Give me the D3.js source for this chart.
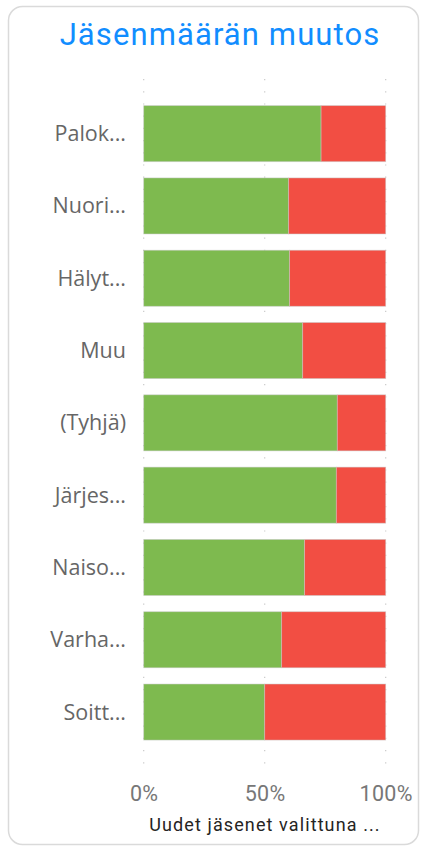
<!DOCTYPE html>
<html>
<head>
<meta charset="utf-8">
<script src="https://cdn.jsdelivr.net/npm/d3@7"></script>
<style>
html,body{margin:0;padding:0;background:#fff;}
svg{display:block;}
</style>
</head>
<body>
<svg id="chart" width="424" height="847"></svg>
<script>
const categories = ["Palok...", "Nuori...", "Hälyt...", "Muu", "(Tyhjä)", "Järjes...", "Naiso...", "Varha...", "Soitt..."];
const greenShare = [73.3, 59.9, 60.3, 65.7, 80.0, 79.6, 66.5, 57.0, 50.0];
const redShare = [26.7, 40.1, 39.7, 34.3, 20.0, 20.4, 33.5, 43.0, 50.0];
const seriesNames = ["Kasvu", "Poistuma"];
const seriesColors = ["#7EBA4F", "#F24E43"];
const xTicks = [0, 50, 100];
const titleText = "Jäsenmäärän muutos";
const xAxisTitle = "Uudet jäsenet valittuna ...";

const svg = d3.select("#chart");

// card
svg.append("rect")
  .attr("x", 8.5).attr("y", 6.5).attr("width", 410).attr("height", 838)
  .attr("rx", 14).attr("ry", 14)
  .attr("fill", "#fff").attr("stroke", "#dadada").attr("stroke-width", 1.5);

svg.append("text")
  .attr("x", 220).attr("y", 45)
  .attr("text-anchor", "middle")
  .attr("font-family", "Roboto, sans-serif")
  .attr("font-size", 31)
  .attr("fill", "#118DFF")
  .attr("letter-spacing", 1.1)
  .text(titleText);

const x = d3.scaleLinear().domain([0, 100]).range([143.7, 385.7]);
const y = d3.scaleBand().domain(categories).range([97.5, 748.2]).paddingInner(0.225).paddingOuter(0.1125);

// gridlines
svg.append("g").selectAll("line").data(xTicks).join("line")
  .attr("x1", d => x(d)).attr("x2", d => x(d))
  .attr("y1", 79).attr("y2", 768)
  .attr("stroke", "#c8c8c8").attr("stroke-width", 1.2)
  .attr("stroke-dasharray", "1.2,11");

const stackData = categories.map((c, i) => ({cat: c, s0: greenShare[i], s1: redShare[i]}));
const stack = d3.stack().keys(["s0", "s1"])(stackData);

svg.append("g").selectAll("g").data(stack).join("g")
  .attr("fill", (d, i) => seriesColors[i])
  .selectAll("rect").data(d => d).join("rect")
  .attr("x", d => x(d[0]))
  .attr("width", d => x(d[1]) - x(d[0]))
  .attr("y", d => y(d.data.cat))
  .attr("height", y.bandwidth())
  .attr("stroke", "rgba(200,200,200,0.6)")
  .attr("stroke-width", 0.8);

// category labels
svg.append("g").selectAll("text").data(categories).join("text")
  .attr("x", 126)
  .attr("y", d => y(d) + y.bandwidth() / 2)
  .attr("dy", "0.35em")
  .attr("text-anchor", "end")
  .attr("font-family", "'Open Sans', sans-serif")
  .attr("font-size", 21.5)
  .attr("fill", "#666666")
  .text(d => d);

// x axis
const xAxis = d3.axisBottom(x).tickValues(xTicks).tickFormat(d => d + "%").tickSize(0).tickPadding(0);
const gx = svg.append("g").attr("transform", "translate(0,801)").call(xAxis);
gx.select(".domain").remove();
gx.selectAll("text")
  .attr("dy", 0).attr("y", 0)
  .attr("font-family", "Roboto, sans-serif")
  .attr("font-size", 21.5)
  .attr("letter-spacing", 0.4)
  .attr("fill", "#777777");

svg.append("text")
  .attr("x", 265).attr("y", 831)
  .attr("text-anchor", "middle")
  .attr("font-family", "Roboto, sans-serif")
  .attr("font-size", 18)
  .attr("fill", "#252423")
  .attr("letter-spacing", 1.1)
  .text(xAxisTitle);
</script>
</body>
</html>
